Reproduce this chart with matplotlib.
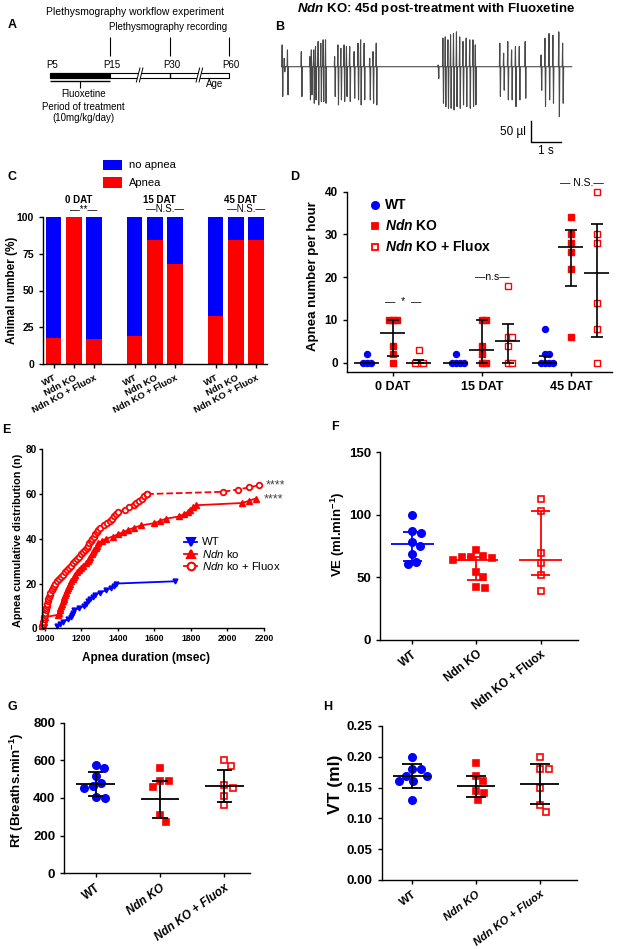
import matplotlib
matplotlib.use("Agg")
import matplotlib.pyplot as plt
from matplotlib.patches import Rectangle, Polygon
import numpy as np

plt.rcParams["font.family"] = ["Liberation Sans", "DejaVu Sans"]
plt.rcParams["mathtext.fontset"] = "custom"
plt.rcParams["mathtext.it"] = "Liberation Sans:italic:bold"
plt.rcParams["mathtext.rm"] = "Liberation Sans:bold"
plt.rcParams["mathtext.sf"] = "Liberation Sans:italic"
plt.rcParams["axes.linewidth"] = 1.0
plt.rcParams["xtick.major.width"] = 1.0
plt.rcParams["ytick.major.width"] = 1.0
plt.rcParams["xtick.major.size"] = 3
plt.rcParams["ytick.major.size"] = 3

BLUE = "#0000ff"
RED = "#ff0000"

# ---------------- data ----------------
# A: timeline
ages = ["P5", "P15", "P30", "P60"]
age_pos = [0, 1, 2, 3]
record_pos = [1, 2, 3]
break_pos = [1.51, 2.51]

# B: breaths (time s, peak up µl, peak down µl)
breath_t = [0.03, 0.10, 0.21, 0.68, 0.97, 1.02, 1.10, 1.16, 1.25, 1.34, 1.42, 1.50,
            1.81, 1.92, 2.02, 2.13, 2.21, 2.32, 2.47, 2.60, 2.69, 2.81, 3.00, 3.11, 3.22,
            5.32, 5.48, 5.56, 5.65, 5.74, 5.84, 5.94, 6.05, 6.16, 6.27, 6.39, 6.50, 6.58,
            7.41, 7.54, 7.68, 7.81, 7.94, 8.07, 8.27,
            8.81, 8.94, 9.08, 9.21, 9.41, 9.54]
breath_up = [52, 20, 40, 36, 24, 40, 40, 48, 60, 56, 64, 64,
             24, 52, 44, 52, 48, 48, 36, 56, 64, 56, 20, 36, 56,
             4, 68, 71, 64, 76, 79, 83, 71, 60, 68, 64, 64, 52,
             56, 32, 60, 40, 48, 48, 60,
             28, 68, 79, 75, 83, 56]
breath_down = [-71, -12, -67, -71, -79, -67, -87, -79, -91, -83, -83, -87,
               -71, -91, -79, -83, -71, -83, -75, -79, -91, -79, -79, -87, -91,
               -28, -87, -95, -99, -99, -103, -95, -99, -91, -95, -99, -95, -91,
               -71, -56, -79, -79, -95, -79, -75,
               -56, -95, -79, -87, -119, -87]
trace_end = 9.84

# C: % animals with apnea
c_days = ["0 DAT", "15 DAT", "45 DAT"]
c_groups = ["WT", "Ndn KO", "Ndn KO + Fluox"]
c_apnea = [[18, 100, 17], [19, 84, 68], [33, 84, 84]]
c_sig = ["**", "N.S.", "N.S."]

# D: apnea number per hour
d_days = ["0 DAT", "15 DAT", "45 DAT"]
d_wt = [[2, 0, 0, 0], [2, 0, 0, 0, 0], [8, 2, 2, 0, 0, 0, 0]]
d_ko = [[10, 10, 10, 4, 2, 0], [10, 10, 4, 2, 0, 0], [34, 30, 28, 26, 22, 6]]
d_fx = [[3, 0, 0, 0], [18, 6, 6, 4, 0, 0], [40, 30, 28, 14, 8, 0]]
d_mid = [[0, 7, 0], [0, 3, 5], [0, 27, 21]]
d_lo = [[0, 1.5, 0], [0, 0, 0], [0, 18, 6]]
d_hi = [[0, 10, 0.7], [0, 10, 9], [1.6, 31, 32.5]]
d_sig = ["\u2014  *  \u2014", "\u2014n.s\u2014", "\u2014 N.S.\u2014"]
d_sig_y = [14.3, 20.1, 42]

# E: apnea durations (msec), one per event
e_wt = [1064, 1080, 1100, 1125, 1140, 1150, 1155, 1160, 1185, 1215, 1225, 1236,
        1248, 1264, 1275, 1300, 1336, 1360, 1380, 1390, 1710]
e_ko = [985, 990, 994, 997, 1000, 1070, 1075, 1080, 1085, 1090, 1094, 1098, 1102,
        1106, 1110, 1115, 1120, 1125, 1130, 1135, 1143, 1151, 1159, 1167, 1175,
        1187, 1199, 1211, 1223, 1235, 1242, 1249, 1256, 1263, 1270, 1277, 1284,
        1290, 1310, 1336, 1370, 1400, 1430, 1455, 1490, 1527, 1600, 1630, 1664,
        1736, 1760, 1782, 1795, 1809, 1827, 2082, 2118, 2155]
e_fx = [985, 988, 990, 992, 995, 998, 1001, 1004, 1007, 1010, 1013, 1016, 1019,
        1022, 1025, 1030, 1036, 1042, 1048, 1055, 1065, 1075, 1086, 1098, 1110,
        1120, 1131, 1142, 1153, 1165, 1176, 1187, 1198, 1209, 1220, 1228, 1236,
        1243, 1250, 1258, 1266, 1275, 1284, 1292, 1300, 1325, 1340, 1355, 1368,
        1380, 1390, 1400, 1440, 1460, 1490, 1500, 1515, 1530, 1545, 1560,
        1975, 2055, 2120, 2175]

# F, G, H: ventilation parameters
groups3 = ["WT", "Ndn KO", "Ndn KO + Fluox"]
f_vals = [[100, 86.9, 85, 78.3, 74.9, 68.2, 61.8, 60.2],
          [71.7, 66.8, 66.3, 66.3, 65, 63.6, 54.3, 49.7, 41.7, 41.2],
          [112.3, 103, 69, 61, 51.6, 38.8]]
f_mid = [76.5, 63.5, 63.6]
f_lo = [63.1, 48, 51.6]
f_hi = [86.1, 66.5, 103]

g_vals = [[575, 561, 519, 481, 464, 455, 407, 398],
          [558, 490, 490, 460, 310, 274],
          [602, 572, 471, 455, 411, 363]]
g_mid = [473, 395, 462]
g_lo = [411, 296, 377]
g_hi = [538, 492, 547]

h_vals = [[0.200, 0.180, 0.180, 0.169, 0.169, 0.160, 0.160, 0.130],
          [0.190, 0.169, 0.160, 0.144, 0.141, 0.130],
          [0.200, 0.180, 0.180, 0.150, 0.121, 0.110]]
h_mid = [0.169, 0.153, 0.156]
h_lo = [0.149, 0.135, 0.123]
h_hi = [0.188, 0.169, 0.189]

# ---------------- figure ----------------
W, H = 617, 949
fig = plt.figure(figsize=(W / 100, H / 100), dpi=100)


def box(l, t, r, b):
    return fig.add_axes([l / W, 1 - b / H, (r - l) / W, (b - t) / H])


def ftext(x, y, s, **kw):
    kw.setdefault("va", "center")
    fig.text(x / W, 1 - y / H, s, **kw)


def swarm(ax, center, values, d_px):
    tr = ax.transData
    x0 = tr.transform((center, 0))[0]
    ppu = tr.transform((center + 1, 0))[0] - x0
    placed, xs = [], []
    for v in values:
        y = tr.transform((center, v))[1]
        cands = [0.0]
        for px, py in placed:
            dy = abs(y - py)
            if dy < d_px:
                dx = (d_px ** 2 - dy ** 2) ** 0.5
                cands += [px + dx, px - dx]
        cands.sort(key=abs)
        for c in cands:
            if all((c - px) ** 2 + (y - py) ** 2 >= d_px ** 2 - 1e-6 for px, py in placed):
                break
        placed.append((c, y))
        xs.append(center + c / ppu)
    return xs


def style_axes(ax):
    for s in ["top", "right"]:
        ax.spines[s].set_visible(False)
    for lbl in ax.get_xticklabels() + ax.get_yticklabels():
        lbl.set_fontweight("bold")


def mean_bars(ax, x, mid, lo, hi, color, half, cap, lw=1.2):
    ax.hlines(mid, x - half, x + half, color=color, lw=lw, zorder=5)
    if hi > lo:
        ax.vlines(x, lo, hi, color=color, lw=lw, zorder=5)
        ax.hlines([lo, hi], x - cap, x + cap, color=color, lw=lw, zorder=5)


marker_styles = [
    dict(marker="o", color=BLUE, mec=BLUE, ls="none"),
    dict(marker="s", color=RED, mec=RED, ls="none"),
    dict(marker="s", mfc="white", mec=RED, ls="none"),
]

# ---- panel letters
for letter, (x, y) in zip("ABCDEFGH", [(12, 25), (280, 27), (12, 177), (295, 177),
                                        (6, 430), (335, 427), (12, 707), (328, 707)]):
    ftext(x, y, letter, weight="bold", size=9, ha="center")

# ---- A: workflow timeline
axA = box(0, 0, 240, 150)
axA.set_xlim(-0.844, 3.176)
axA.set_ylim(150, 0)
axA.axis("off")
axA.add_patch(Rectangle((age_pos[0], 72.7), age_pos[-1] - age_pos[0], 5.6,
                        fc="white", ec="black", lw=0.8))
axA.add_patch(Rectangle((age_pos[0], 72.7), age_pos[1] - age_pos[0], 5.6, fc="black", ec="black", lw=0.8))
axA.vlines(age_pos[2], 72.7, 78.3, color="black", lw=1.0)
for b in break_pos:
    axA.add_patch(Polygon([(b - 0.07, 82), (b - 0.01, 68), (b + 0.04, 68), (b - 0.02, 82)],
                          closed=True, fc="white", ec="none", zorder=3))
    axA.plot([b - 0.07, b - 0.01], [82, 68], color="black", lw=0.7, zorder=4)
    axA.plot([b - 0.02, b + 0.04], [82, 68], color="black", lw=0.7, zorder=4)
axA.vlines(record_pos, 37, 56, color="black", lw=0.8)
for p, a in zip(age_pos, ages):
    axA.text(p + 0.03, 65, a, ha="center", va="center", size=7)
axA.hlines(80.5, age_pos[0], age_pos[1], color="black", lw=1.0)
axA.vlines(0.5, 80.5, 88, color="black", lw=0.8)
for yy, s in zip([94.3, 107.3, 118.3], ["Fluoxetine", "Period of treatment", "(10mg/kg/day)"]):
    axA.text(0.55, yy, s, ha="center", va="center", size=7)
axA.text(2.75, 84, "Age", ha="center", va="center", size=7)
axA.text(0.98, 27.3, "Plethysmography recording", ha="left", va="center", size=7)
axA.text(-0.07, 11.7, "Plethysmography workflow experiment", ha="left", va="center", size=7.5)

# ---- B: breathing trace
axB = box(270, 20, 590, 160)
axB.set_xlim(-0.39, 10.46)
axB.set_ylim(-222.1, 111.2)
axB.axis("off")
tx, ty = [0.0], [0.0]
for t, up, dn in zip(breath_t, breath_up, breath_down):
    tx += [t - 0.022, t - 0.008, t + 0.012, t + 0.026]
    ty += [0, up, dn, 0]
tx.append(trace_end)
ty.append(0)
axB.plot(tx, ty, color="#4a4a4a", lw=0.8)
sb_t, sb_y = 8.47, -179.5
axB.plot([sb_t, sb_t, sb_t + 1], [sb_y + 50, sb_y, sb_y], color="black", lw=1.0)
axB.text(sb_t - 0.2, sb_y + 25, "50 \u00b5l", ha="right", va="center", size=8.5)
axB.text(sb_t + 0.5, sb_y - 20, "1 s", ha="center", va="center", size=8.5)
ftext(436, 9, r"$\mathit{Ndn}$ KO: 45d post-treatment with Fluoxetine", weight="bold", size=9.5, ha="center")

# ---- C: stacked bars
axC = box(43, 216.7, 267, 364.3)
axC.set_xlim(-0.52, 10.54)
axC.set_ylim(0, 100)
xpos, xlab = [], []
for gi, day in enumerate(c_days):
    for j, grp in enumerate(c_groups):
        x = gi * 4 + j
        a = c_apnea[gi][j]
        axC.bar(x, a, width=0.77, color=RED, lw=0)
        axC.bar(x, 100 - a, bottom=a, width=0.77, color=BLUE, lw=0)
        xpos.append(x)
        xlab.append(grp)
    axC.text(gi * 4 + 1.25, 111.3, day, ha="center", va="center", size=7, weight="bold", clip_on=False)
    axC.text(gi * 4 + 1.5, 105.2, "\u2014" + c_sig[gi] + "\u2014", ha="center", va="center", size=7, clip_on=False)
axC.set_yticks([0, 25, 50, 75, 100])
axC.set_xticks(xpos)
axC.set_xticklabels(xlab, rotation=28, ha="right", rotation_mode="anchor", size=6.8)
axC.tick_params(axis="y", labelsize=7.5)
axC.set_ylabel("Animal number (%)", weight="bold", size=8.5)
axC.yaxis.set_label_coords(-0.11, 0.5)
style_axes(axC)
fig.patches.append(Rectangle((103 / W, 1 - 170 / H), 19 / W, 10.5 / H, transform=fig.transFigure, fc=BLUE, ec="none"))
fig.patches.append(Rectangle((103 / W, 1 - 188.3 / H), 19 / W, 11.6 / H, transform=fig.transFigure, fc=RED, ec="none"))
ftext(129, 164.5, "no apnea", size=8)
ftext(129, 182.5, "Apnea", size=8)

# ---- D: apnea per hour scatter
axD = box(346.7, 191.7, 611.7, 371.7)
axD.set_xlim(0.483, 3.46)
axD.set_ylim(-2.1, 40)
offs = [-0.29, 0, 0.29]
msD = [4.3, 3.8, 3.8]
for gi in range(3):
    for j, data in enumerate([d_wt, d_ko, d_fx]):
        xc = gi + 1 + offs[j]
        xs = swarm(axD, xc, data[gi], 4)
        axD.plot(xs, data[gi], ms=msD[j], mew=1.0, clip_on=False, zorder=3, **marker_styles[j])
        mean_bars(axD, xc, d_mid[gi][j], d_lo[gi][j], d_hi[gi][j], "black", 0.14, 0.067)
    axD.text(gi + 1 + 0.12, d_sig_y[gi], d_sig[gi], ha="center", va="center", size=7.5, clip_on=False)
axD.set_yticks([0, 10, 20, 30, 40])
axD.set_xticks([1, 2, 3])
axD.set_xticklabels(d_days, size=9)
axD.tick_params(axis="y", labelsize=8.5)
axD.set_ylabel("Apnea number per hour", weight="bold", size=9.5)
axD.yaxis.set_label_coords(-0.105, 0.53)
style_axes(axD)
for yy, lab, st, ms in zip([205, 226, 246.7], ["WT", r"$\mathit{Ndn}$ KO", r"$\mathit{Ndn}$ KO + Fluox"],
                           marker_styles, [5.2, 5, 5]):
    axD.plot([375 / W], [1 - yy / H], transform=fig.transFigure, ms=ms, mew=1.3, clip_on=False, **st)
    ftext(385, yy, lab, weight="bold", size=10)

# ---- E: cumulative distribution
axE = box(41.7, 449.3, 264, 628.3)
axE.set_xlim(982, 2200)
axE.set_ylim(0, 80)
n_wt = np.arange(1, len(e_wt) + 1)
n_ko = np.arange(1, len(e_ko) + 1)
n_fx = np.arange(1, len(e_fx) + 1)
axE.plot(e_wt, n_wt, color=BLUE, lw=1.3, marker="v", ms=3.5, clip_on=False)
axE.plot(e_ko, n_ko, color=RED, lw=1.3, marker="^", ms=4, clip_on=False)
axE.plot(e_fx[:60], n_fx[:60], color=RED, lw=1.3, marker="o", ms=4, mfc="white", mew=1.3, clip_on=False)
axE.plot(e_fx[59:], n_fx[59:], color=RED, lw=1.3, ls="--", marker="o", ms=4, mfc="white", mew=1.3, clip_on=False)
axE.text(2210, n_fx[-1], "****", ha="left", va="center", size=9, color="#444444", clip_on=False)
axE.text(2200, n_ko[-1] - 0.3, "****", ha="left", va="center", size=9, color="#444444", clip_on=False)
axE.set_xticks(range(1000, 2201, 200))
axE.set_yticks(range(0, 81, 20))
axE.tick_params(axis="x", labelsize=6.2, length=2, pad=2)
axE.tick_params(axis="y", labelsize=7.2, length=2, pad=1.5)
axE.set_xlabel("Apnea duration (msec)", weight="bold", size=8.5)
axE.xaxis.set_label_coords(0.47, -0.135)
axE.set_ylabel("Apnea cumulative distribution (n)", weight="bold", size=7.8)
axE.yaxis.set_label_coords(-0.085, 0.49)
style_axes(axE)
e_leg = [("WT", dict(color=BLUE, marker="v")),
         (r"$\mathsf{Ndn}$ ko", dict(color=RED, marker="^")),
         (r"$\mathsf{Ndn}$ ko + Fluox", dict(color=RED, marker="o", mfc="white"))]
for yy, (lab, st) in zip([541.7, 554, 566], e_leg):
    axE.plot([184 / W, 197 / W], [1 - yy / H] * 2, transform=fig.transFigure, lw=1.3,
             color=st["color"], clip_on=False)
    axE.plot([190.5 / W], [1 - yy / H], transform=fig.transFigure, ls="none", ms=5.5, mew=1.5,
             clip_on=False, **st)
    ftext(201.7, yy, lab, size=8.2)


# ---- F, G, H: scatter with mean/error bars
def dot_panel(ax, vals, mid, lo, hi, ylim, yticks, d_px, ms, bar_colors, half, cap, ylabel, ysize,
              lab_xy, rot, italic, xsize=8.5):
    ax.set_xlim(*ylim[0])
    ax.set_ylim(*ylim[1])
    for j in range(3):
        xs = swarm(ax, j, vals[j], d_px)
        ax.plot(xs, vals[j], ms=ms[j], mew=1.2, clip_on=False, zorder=3, **marker_styles[j])
        mean_bars(ax, j, mid[j], lo[j], hi[j], bar_colors[j], half, cap, lw=1.3)
    ax.set_yticks(yticks)
    ax.set_xticks([0, 1, 2])
    ax.set_xticklabels(groups3, rotation=rot, ha="right", rotation_mode="anchor", size=xsize)
    ax.tick_params(axis="y", labelsize=9.5)
    ax.set_ylabel(ylabel, weight="bold", size=ysize)
    ax.yaxis.set_label_coords(*lab_xy)
    style_axes(ax)
    if italic:
        for lbl in ax.get_xticklabels()[1:]:
            lbl.set_fontstyle("italic")


axF = box(380, 452.3, 578.3, 639.5)
dot_panel(axF, f_vals, f_mid, f_lo, f_hi, [(-0.503, 2.586), (0, 150)], [0, 50, 100, 150], 9,
          [5.3, 5, 5], [BLUE, RED, RED], 0.335, 0.15, r"VE (ml.min$^{-1}$)", 9.5, (-0.165, 0.56), 38, False)

axG = box(64.3, 722.7, 250, 873.3)
dot_panel(axG, g_vals, g_mid, g_lo, g_hi, [(-0.489, 2.40), (0, 800)], [0, 200, 400, 600, 800], 9,
          [5.3, 5, 5], ["black"] * 3, 0.3, 0.12, r"Rf (Breaths.min$^{-1}$)", 9.5, (-0.206, 0.55), 36, True)

axH = box(381.7, 726, 576.7, 880)
dot_panel(axH, h_vals, h_mid, h_lo, h_hi, [(-0.47, 2.58), (0, 0.25)], [0, 0.05, 0.10, 0.15, 0.20, 0.25], 9,
          [5.3, 5, 5], ["black"] * 3, 0.3, 0.155, "VT (ml)", 12.5, (-0.198, 0.62), 37, True, xsize=8.1)
axH.set_yticklabels(["%.2f" % v for v in [0, 0.05, 0.10, 0.15, 0.20, 0.25]], weight="bold")

fig.savefig("out.png", dpi=100)
